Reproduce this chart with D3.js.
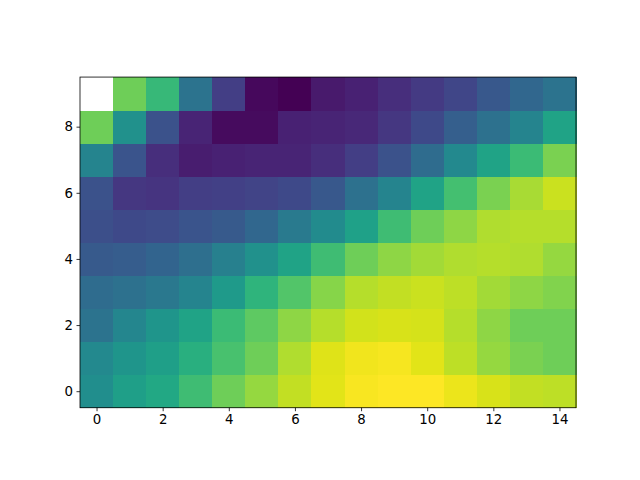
<!DOCTYPE html>
<html>
  <head>
    <meta charset="utf-8">
    <script type="text/javascript" src="https://d3js.org/d3.v7.min.js"></script>
    <title></title>
  </head>
  <style media="screen">
    body { margin: 0; background: #fff; }
    text { font-family: "DejaVu Sans", sans-serif; }
  </style>
  <body>

    <script type="text/javascript">

    // grid values, row 0 is the bottom row (origin lower); null = missing cell
    var row0 = [0.49, 0.56, 0.60, 0.69, 0.78, 0.84, 0.91, 0.955, 0.99, 1.00, 1.00, 0.97, 0.94, 0.91, 0.90];
    var row1 = [0.47, 0.52, 0.56, 0.63, 0.71, 0.78, 0.88, 0.95, 0.98, 0.985, 0.955, 0.90, 0.84, 0.80, 0.78];
    var row2 = [0.38, 0.46, 0.52, 0.58, 0.68, 0.75, 0.83, 0.89, 0.93, 0.94, 0.935, 0.89, 0.83, 0.78, 0.78];
    var row3 = [0.35, 0.37, 0.40, 0.45, 0.54, 0.65, 0.73, 0.82, 0.89, 0.91, 0.92, 0.90, 0.86, 0.83, 0.81];
    var row4 = [0.28, 0.29, 0.32, 0.36, 0.43, 0.50, 0.58, 0.69, 0.78, 0.83, 0.86, 0.88, 0.89, 0.88, 0.84];
    var row5 = [0.24, 0.22, 0.23, 0.26, 0.28, 0.33, 0.41, 0.48, 0.57, 0.69, 0.78, 0.83, 0.88, 0.89, 0.89];
    var row6 = [0.25, 0.16, 0.15, 0.18, 0.19, 0.20, 0.22, 0.27, 0.37, 0.45, 0.58, 0.70, 0.80, 0.87, 0.92];
    var row7 = [0.45, 0.26, 0.13, 0.08, 0.09, 0.10, 0.10, 0.13, 0.18, 0.25, 0.35, 0.47, 0.58, 0.68, 0.80];
    var row8 = [0.78, 0.50, 0.25, 0.10, 0.03, 0.03, 0.09, 0.10, 0.11, 0.16, 0.22, 0.30, 0.37, 0.45, 0.58];
    var row9 = [null, 0.78, 0.67, 0.38, 0.18, 0.02, 0.00, 0.07, 0.09, 0.13, 0.17, 0.21, 0.27, 0.33, 0.38];

    var rows = [row0, row1, row2, row3, row4, row5, row6, row7, row8, row9];

    var xTicks = [0, 2, 4, 6, 8, 10, 12, 14];
    var yTicks = [0, 2, 4, 6, 8];

    var W = 640, H = 480;
    var nCols = row0.length, nRows = rows.length;

    // matplotlib default axes box, shrunk to equal aspect
    var axW = 0.775 * W, axH = 0.77 * H;
    var cellPx = Math.min(axW / nCols, axH / nRows);
    var plotW = cellPx * nCols, plotH = cellPx * nRows;
    var cx = 0.125 * W + axW / 2, cy = H - (0.11 * H + axH / 2);
    var plotLeft = cx - plotW / 2, plotTop = cy - plotH / 2;

    var x = d3.scaleLinear().domain([-0.5, nCols - 0.5]).range([plotLeft, plotLeft + plotW]);
    var y = d3.scaleLinear().domain([-0.5, nRows - 0.5]).range([plotTop + plotH, plotTop]);

    var flat = [];
    rows.forEach(function(r, j) {
      r.forEach(function(v, i) { flat.push({col: i, row: j, v: v}); });
    });

    var vals = flat.filter(function(d) { return d.v !== null; }).map(function(d) { return d.v; });
    var color = d3.scaleSequential(d3.interpolateViridis).domain(d3.extent(vals));

    var svg = d3.select("body").append("svg")
        .attr("width", W)
        .attr("height", H);

    svg.append("rect").attr("width", W).attr("height", H).attr("fill", "#fff");

    svg.append("g")
        .attr("shape-rendering", "crispEdges")
      .selectAll("rect")
      .data(flat)
      .enter().append("rect")
        .attr("x", function(d) { return x(d.col - 0.5); })
        .attr("y", function(d) { return y(d.row + 0.5); })
        .attr("width", function(d) { return x(d.col + 0.5) - x(d.col - 0.5) + 0.5; })
        .attr("height", function(d) { return y(d.row - 0.5) - y(d.row + 0.5) + 0.5; })
        .attr("fill", function(d) { return d.v === null ? "#fff" : color(d.v); });

    var xAxis = d3.axisBottom(x).tickValues(xTicks).tickSize(3.5).tickPadding(3.5);
    var yAxis = d3.axisLeft(y).tickValues(yTicks).tickSize(3.5).tickPadding(3.5);

    var gx = svg.append("g")
        .attr("transform", "translate(0," + (plotTop + plotH) + ")")
        .call(xAxis);
    var gy = svg.append("g")
        .attr("transform", "translate(" + plotLeft + ",0)")
        .call(yAxis);

    [gx, gy].forEach(function(g) {
      g.select(".domain").remove();
      g.selectAll(".tick line").attr("stroke", "#000").attr("stroke-width", 0.8);
      g.selectAll(".tick text")
        .attr("fill", "#000")
        .style("font-size", "13.33px")
        .style("font-family", "DejaVu Sans, sans-serif");
    });

    // frame
    svg.append("rect")
        .attr("x", plotLeft).attr("y", plotTop)
        .attr("width", plotW).attr("height", plotH)
        .attr("fill", "none")
        .attr("stroke", "#000")
        .attr("stroke-width", 0.8);

    </script>

  </body>
</html>
